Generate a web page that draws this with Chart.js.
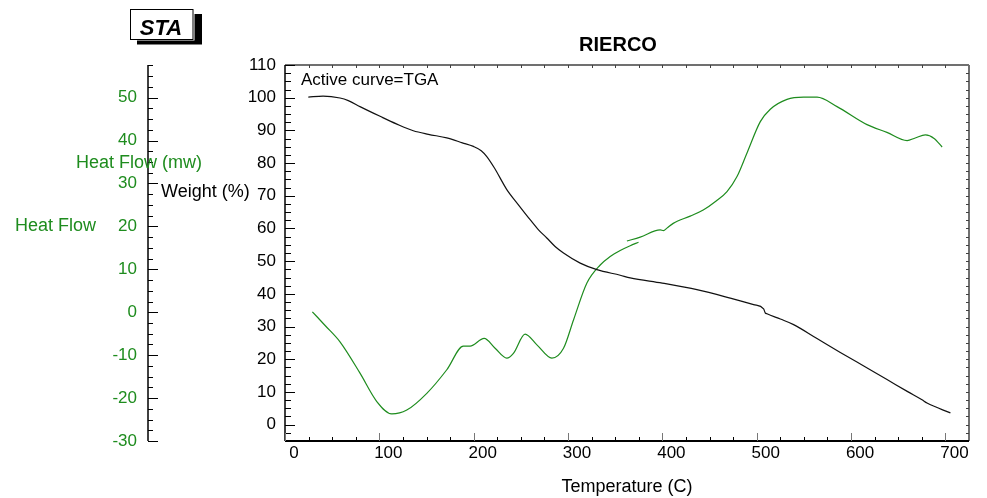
<!DOCTYPE html>
<html>
<head>
<meta charset="utf-8">
<script src="https://cdn.jsdelivr.net/npm/chart.js@4.4.1/dist/chart.umd.min.js"></script>
<style>
  html, body { margin: 0; padding: 0; background: #fff; }
  canvas { display: block; }
</style>
</head>
<body>
<canvas id="staChart" width="987" height="498"></canvas>
<script>
// TGA curve: weight (%) vs temperature (C)
const tgaTemp = [24.7, 40.3, 58.3, 67.1, 80, 100.8, 118, 136, 152, 171.5,
                 188, 199.7, 208, 213.9, 222, 235.1, 247, 259.8, 268.7, 277.5,
                 286.3, 295.2, 312.9, 330.6, 355.3, 365.9, 399.8, 436.6, 471.9, 496.7,
                 507.3, 509, 510.9, 525, 539.1, 563, 588.6, 613, 638.1, 660,
                 675.2, 680.5, 705.3];
const tgaWeight = [100.2, 100.5, 99.9, 99.1, 97.2, 94.3, 92.0, 89.9, 88.8, 87.7,
                   86.2, 85.1, 83.8, 82.0, 78.5, 71.9, 67.4, 62.7, 59.6, 57.1,
                   54.5, 52.5, 49.4, 47.4, 45.7, 44.9, 43.3, 41.3, 38.7, 36.7,
                   35.4, 34.2, 33.9, 32.3, 30.6, 26.5, 22.1, 18.0, 13.8, 10.1,
                   7.6, 6.6, 3.6];

// heat flow curve (mw), recorded in two overlapping pieces
const dscTempA = [29.0, 43, 58.3, 79.5, 97.3, 113.2, 129.1, 150.3, 171.5, 189.1,
                  196.2, 211.1, 222.7, 235.1, 242.1, 254.5, 267.0, 282.9, 295.2, 305.8,
                  320.0, 334.1, 344.7, 355.3, 365.9, 374.7];
const dscHeatA = [0.1, -3.2, -6.9, -14.2, -20.8, -23.7, -22.8, -18.9, -13.4, -7.9,
                  -7.9, -6.1, -8.4, -10.7, -9.6, -5.1, -7.6, -10.7, -8.4, -1.8,
                  6.8, 11.0, 13.0, 14.4, 15.5, 16.3];
const dscTempB = [362.4, 376.5, 397.7, 401.2, 404.8, 411.5, 429.5, 443.3, 457, 468.5,
                  479.1, 489.7, 503.8, 514.4, 532.1, 549.7, 563.9, 585.1, 616.9, 638,
                  659.4, 668, 678.8, 688, 696.5];
const dscHeatB = [16.6, 17.5, 19.2, 19.0, 19.6, 20.7, 22.4, 23.8, 25.9, 28.1,
                  31.6, 37.1, 44.4, 47.3, 49.6, 50.1, 50.1, 47.9, 43.7, 41.9,
                  40.0, 40.6, 41.3, 40.5, 38.5];

const tempTicks = [0, 100, 200, 300, 400, 500, 600, 700];
const weightTicks = [0, 10, 20, 30, 40, 50, 60, 70, 80, 90, 100, 110];
const heatTicks = [-30, -20, -10, 0, 10, 20, 30, 40, 50];

const GREEN = '#1e8c1e';
const FONT = '"Liberation Sans", Arial, Helvetica, sans-serif';

const toPoints = (xs, ys) => xs.map((x, i) => ({ x: x, y: ys[i] }));

// axis lines, inward tick marks, frame and the loose labels
const framePlugin = {
    id: 'staFrame',
    afterDraw(chart) {
        const { ctx, chartArea: a, scales } = chart;
        const xs = scales.x, yw = scales.y, yh = scales.y2;
        const line = (x1, y1, x2, y2) => {
            ctx.beginPath(); ctx.moveTo(x1, y1); ctx.lineTo(x2, y2); ctx.stroke();
        };
        ctx.save();

        // top and right frame
        ctx.strokeStyle = '#707070';
        ctx.lineWidth = 2;
        line(a.left, a.top, a.right, a.top);
        line(a.right, a.top, a.right, a.bottom);
        ctx.lineWidth = 1;
        ctx.strokeStyle = '#404040';
        for (let v = 25; v < xs.max; v += 25) {
            const px = Math.round(xs.getPixelForValue(v)) + 0.5;
            line(px, a.top, px, a.top + 3);
        }
        for (let v = -2.5; v < yw.max; v += 2.5) {
            const py = Math.round(yw.getPixelForValue(v)) + 0.5;
            line(a.right - 3, py, a.right, py);
        }

        // weight axis
        ctx.strokeStyle = '#000';
        ctx.lineWidth = 1.5;
        line(a.left, a.top, a.left, a.bottom);
        ctx.lineWidth = 1;
        for (let v = -5; v <= yw.max; v += 2.5) {
            const py = Math.round(yw.getPixelForValue(v)) + 0.5;
            line(a.left, py, a.left + (v % 10 === 0 ? 10 : 6), py);
        }

        // heat flow axis
        const hx = yh.right;
        ctx.lineWidth = 1.5;
        line(hx, a.top, hx, a.bottom);
        ctx.lineWidth = 1;
        for (let v = -30; v <= yh.max; v += 2.5) {
            const py = Math.round(yh.getPixelForValue(v)) + 0.5;
            line(hx, py, hx + (v % 10 === 0 ? 10 : 5), py);
        }

        // temperature axis
        ctx.lineWidth = 2;
        line(a.left, a.bottom, a.right, a.bottom);
        ctx.lineWidth = 1;
        for (let v = 0; v < xs.max; v += 25) {
            const px = Math.round(xs.getPixelForValue(v)) + 0.5;
            ctx.strokeStyle = v % 100 === 0 ? '#777' : '#000';
            line(px, a.bottom, px, a.bottom - (v % 100 === 0 ? 8 : 4));
        }

        // texts
        ctx.fillStyle = '#000';
        ctx.textBaseline = 'alphabetic';
        ctx.textAlign = 'center';
        ctx.font = 'bold 20px ' + FONT;
        ctx.fillText('RIERCO', 618, 51);
        ctx.textAlign = 'left';
        ctx.font = '17px ' + FONT;
        ctx.fillText('Active curve=TGA', 301, 85);
        ctx.font = '18px ' + FONT;
        ctx.fillText('Weight (%)', 161, 197);
        ctx.fillStyle = GREEN;
        ctx.fillText('Heat Flow (mw)', 76, 168);
        ctx.fillText('Heat Flow', 15, 231);

        // STA badge
        ctx.fillStyle = '#000';
        ctx.fillRect(137, 14, 65, 30.5);
        ctx.fillStyle = '#fff';
        ctx.fillRect(128.5, 7.5, 66, 33);
        ctx.strokeStyle = '#000';
        ctx.lineWidth = 1;
        ctx.strokeRect(130.5, 9.5, 62.5, 30);
        ctx.fillStyle = '#000';
        ctx.textAlign = 'center';
        ctx.font = 'italic bold 22px ' + FONT;
        ctx.fillText('STA', 161, 35);

        ctx.restore();
    }
};

const ctx = document.getElementById('staChart').getContext('2d');

new Chart(ctx, {
    type: 'line',
    data: {
        datasets: [
            {
                label: 'TGA',
                data: toPoints(tgaTemp, tgaWeight),
                yAxisID: 'y',
                borderColor: '#111',
                borderWidth: 1.2,
                pointRadius: 0,
                cubicInterpolationMode: 'monotone'
            },
            {
                label: 'Heat Flow',
                data: toPoints(dscTempA, dscHeatA),
                yAxisID: 'y2',
                borderColor: GREEN,
                borderWidth: 1.2,
                pointRadius: 0,
                cubicInterpolationMode: 'monotone'
            },
            {
                label: 'Heat Flow (cont.)',
                data: toPoints(dscTempB, dscHeatB),
                yAxisID: 'y2',
                borderColor: GREEN,
                borderWidth: 1.2,
                pointRadius: 0,
                cubicInterpolationMode: 'monotone'
            }
        ]
    },
    options: {
        responsive: false,
        animation: false,
        layout: { padding: { left: 0, right: 18, top: 65, bottom: 0 } },
        plugins: {
            legend: { display: false },
            tooltip: { enabled: false },
            title: { display: false }
        },
        scales: {
            x: {
                type: 'linear',
                min: 0,
                max: 725,
                afterBuildTicks: s => { s.ticks = tempTicks.map(v => ({ value: v })); },
                afterFit: s => { s.height = 57; },
                grid: { display: false, drawTicks: false },
                border: { display: false },
                ticks: { padding: 2, labelOffset: 9, color: '#000', font: { family: FONT, size: 17 }, maxRotation: 0 },
                title: {
                    display: true,
                    text: 'Temperature (C)',
                    color: '#000',
                    font: { family: FONT, size: 18 },
                    padding: { top: 0, bottom: 0 }
                }
            },
            y: {
                position: 'left',
                weight: 0,
                min: -5,
                max: 110,
                afterBuildTicks: s => { s.ticks = weightTicks.map(v => ({ value: v })); },
                afterFit: s => { s.width = 137; },
                grid: { display: false, drawTicks: false },
                border: { display: false },
                ticks: { padding: 9, color: '#000', font: { family: FONT, size: 17 } }
            },
            y2: {
                position: 'left',
                weight: 10,
                min: -30,
                max: 57.6,
                afterBuildTicks: s => { s.ticks = heatTicks.map(v => ({ value: v })); },
                afterFit: s => { s.width = 148; },
                grid: { display: false, drawTicks: false },
                border: { display: false },
                ticks: { padding: 11, color: GREEN, font: { family: FONT, size: 17 } }
            }
        }
    },
    plugins: [framePlugin]
});
</script>
</body>
</html>
